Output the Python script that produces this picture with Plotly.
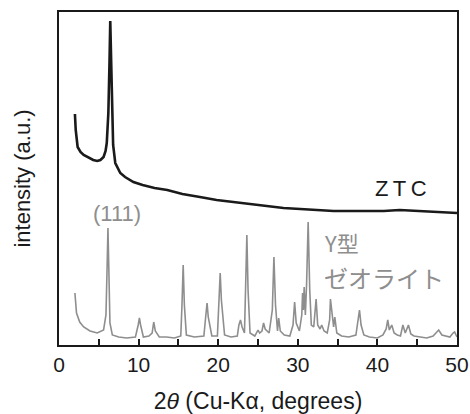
import plotly.graph_objects as go

# ZTC (black) pattern
ztc_x = [2.0, 2.1, 2.34, 2.7, 3.1, 3.8, 4.3, 4.8, 5.2, 5.6, 5.85, 6.0, 6.2, 6.35, 6.44, 6.55, 6.65, 6.8, 7.07, 7.4, 7.7, 8.3, 9.35, 10.5, 12.0, 13.6, 15.5, 17.7, 19.8, 21.9, 24.0, 26.1, 28.2, 30.3, 32.4, 34.5, 36.6, 38.7, 40.8, 42.8, 45.0, 47.0, 48.5, 50.0]
ztc_y = [231, 215, 198, 193, 190, 187, 185, 184, 185, 188, 194, 202, 232, 285, 324, 285, 232, 200, 182, 176, 172, 168, 163, 160, 157, 155, 151, 148, 145, 143, 141, 139, 137, 136, 135, 134, 134, 134, 134, 135, 134, 133, 133, 132]

# Y-type zeolite (gray) pattern
zeo_x = [2.0, 2.2, 2.6, 3.1, 3.9, 4.8, 5.6, 5.9, 6.05, 6.15, 6.25, 6.4, 6.7, 7.5, 8.5, 9.6, 9.95, 10.1, 10.25, 10.6, 11.3, 11.7, 11.9, 12.1, 12.6, 13.5, 14.5, 15.3, 15.45, 15.6, 15.75, 16.0, 17.0, 18.2, 18.45, 18.6, 18.75, 19.2, 19.9, 20.1, 20.25, 20.4, 20.8, 21.6, 22.4, 22.6, 22.8, 23.0, 23.3, 23.45, 23.6, 23.75, 24.0, 24.6, 25.0, 25.2, 25.5, 25.7, 25.9, 26.4, 26.8, 27.0, 27.2, 27.45, 27.6, 27.8, 28.3, 29.0, 29.4, 29.6, 29.8, 30.2, 30.5, 30.6, 30.7, 30.8, 30.95, 31.1, 31.3, 31.5, 31.7, 32.0, 32.3, 32.5, 32.8, 33.0, 33.3, 33.7, 34.0, 34.1, 34.3, 34.5, 34.65, 34.9, 35.5, 36.4, 37.3, 37.55, 37.75, 37.95, 38.3, 39.0, 40.0, 40.7, 41.1, 41.3, 41.5, 41.8, 42.1, 42.5, 42.9, 43.2, 43.5, 43.9, 44.2, 44.6, 45.3, 46.2, 47.0, 47.4, 47.7, 48.1, 48.6, 49.1, 49.5, 49.7, 50.0]
zeo_y = [52, 32, 23, 18, 14, 12, 15, 30, 80, 117, 80, 22, 10, 8, 7, 8, 20, 27, 20, 8, 9, 12, 23, 14, 8, 8, 7, 9, 40, 80, 40, 10, 8, 9, 30, 42, 28, 9, 9, 45, 72, 45, 10, 8, 9, 20, 25, 18, 12, 60, 110, 55, 12, 9, 15, 12, 14, 22, 16, 12, 35, 88, 40, 14, 27, 14, 10, 9, 20, 43, 22, 14, 30, 52, 35, 58, 30, 60, 123, 55, 20, 18, 46, 20, 16, 20, 14, 12, 25, 46, 28, 18, 28, 12, 9, 8, 10, 22, 35, 20, 10, 8, 7, 10, 16, 25, 15, 20, 12, 10, 9, 20, 12, 20, 11, 9, 8, 7, 9, 13, 15, 10, 9, 8, 12, 13, 8]

x_ticks = [0, 10, 20, 30, 40, 50]

GRAY = "#8e8e8e"
INK = "#1a1a1a"
FONT = "Liberation Sans, Arial, sans-serif"
JFONT = "Noto Sans CJK JP, sans-serif"

fig = go.Figure()
fig.add_trace(go.Scatter(x=zeo_x, y=zeo_y, mode="lines",
                         line=dict(color=GRAY, width=1.6), showlegend=False))
fig.add_trace(go.Scatter(x=ztc_x, y=ztc_y, mode="lines",
                         line=dict(color=INK, width=2.6), showlegend=False))

fig.add_annotation(x=43.0, y=157, text="Z\u2009T\u2009C", showarrow=False,
                   font=dict(family=FONT, size=22, color=INK))
fig.add_annotation(x=7.3, y=132, text="(111)", showarrow=False,
                   font=dict(family=FONT, size=22, color=GRAY))
fig.add_annotation(x=33.0, y=103, text="Y型", showarrow=False, xanchor="left",
                   font=dict(family=JFONT, size=22, color=GRAY))
fig.add_annotation(x=33.0, y=68, text="ゼオライト", showarrow=False, xanchor="left",
                   font=dict(family=JFONT, size=24, color=GRAY))

fig.update_layout(
    width=470, height=414,
    margin=dict(l=59, r=13, t=12, b=69),
    paper_bgcolor="white", plot_bgcolor="white",
    xaxis=dict(range=[0, 50], tickvals=x_ticks, ticks="inside", ticklen=6,
               tickwidth=1.5, tickcolor=INK, automargin=False,
               minor=dict(dtick=5, ticks="inside", ticklen=6, tickwidth=1.5, tickcolor=INK),
               showline=True, linecolor=INK, linewidth=2, mirror=True,
               showgrid=False, zeroline=False,
               tickfont=dict(family=FONT, size=21, color=INK),
               title=dict(text="2<i>θ</i> (Cu-Kα, degrees)", standoff=18,
                          font=dict(family=FONT, size=23, color=INK))),
    yaxis=dict(range=[0, 333], showticklabels=False, ticks="", automargin=False,
               showline=True, linecolor=INK, linewidth=2, mirror=True,
               showgrid=False, zeroline=False,
               title=dict(text="intensity (a.u.)", standoff=20,
                          font=dict(family=FONT, size=22, color=INK))),
)

fig.write_html("out.html", config={"displayModeBar": False},
               post_script="document.body.style.margin='0';document.body.style.overflow='hidden';")
